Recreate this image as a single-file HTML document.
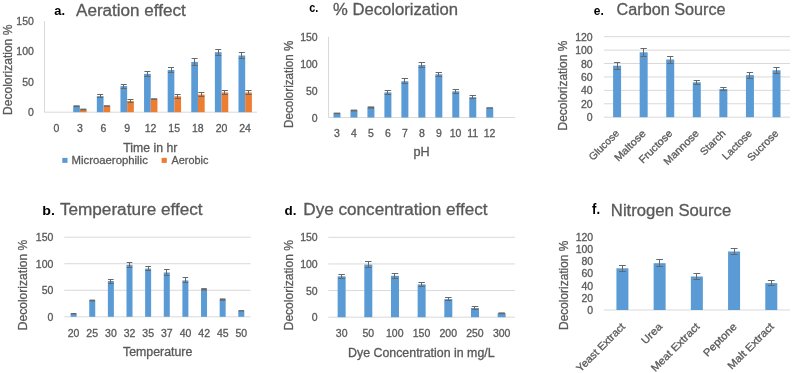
<!DOCTYPE html>
<html><head><meta charset="utf-8"><style>
html,body{margin:0;padding:0;background:#fff;}
svg{display:block;filter:blur(0.35px);}
text{font-family:"Liberation Sans",sans-serif;}
text.g{stroke:#595959;stroke-width:0.3px;}
</style></head><body>
<svg width="793" height="373" viewBox="0 0 793 373">
<rect width="793" height="373" fill="#fff"/>
<line x1="44.50" y1="21.00" x2="44.50" y2="112.20" stroke="#D9D9D9" stroke-width="1"/>
<line x1="44.50" y1="112.20" x2="257.00" y2="112.20" stroke="#D9D9D9" stroke-width="1"/>
<rect x="73.22" y="106.20" width="6.70" height="6.00" fill="#5B9BD5"/>
<rect x="73.57" y="105.30" width="6.00" height="1.80" fill="#686868"/>
<rect x="79.92" y="109.50" width="6.70" height="2.70" fill="#ED7D31"/>
<rect x="80.27" y="108.60" width="6.00" height="1.80" fill="#686868"/>
<rect x="96.83" y="96.10" width="6.70" height="16.10" fill="#5B9BD5"/>
<line x1="100.50" y1="94.50" x2="100.50" y2="97.50" stroke="#686868" stroke-width="1"/>
<line x1="97.18" y1="94.50" x2="103.18" y2="94.50" stroke="#686868" stroke-width="1"/>
<line x1="97.18" y1="97.50" x2="103.18" y2="97.50" stroke="#686868" stroke-width="1"/>
<rect x="103.53" y="106.00" width="6.70" height="6.20" fill="#ED7D31"/>
<rect x="103.88" y="105.20" width="6.00" height="1.60" fill="#686868"/>
<rect x="120.44" y="86.10" width="6.70" height="26.10" fill="#5B9BD5"/>
<line x1="123.50" y1="84.50" x2="123.50" y2="88.50" stroke="#686868" stroke-width="1"/>
<line x1="120.79" y1="84.50" x2="126.79" y2="84.50" stroke="#686868" stroke-width="1"/>
<line x1="120.79" y1="88.50" x2="126.79" y2="88.50" stroke="#686868" stroke-width="1"/>
<rect x="127.14" y="101.10" width="6.70" height="11.10" fill="#ED7D31"/>
<line x1="130.50" y1="99.50" x2="130.50" y2="102.50" stroke="#686868" stroke-width="1"/>
<line x1="127.49" y1="99.50" x2="133.49" y2="99.50" stroke="#686868" stroke-width="1"/>
<line x1="127.49" y1="102.50" x2="133.49" y2="102.50" stroke="#686868" stroke-width="1"/>
<rect x="144.05" y="73.90" width="6.70" height="38.30" fill="#5B9BD5"/>
<line x1="147.50" y1="71.50" x2="147.50" y2="76.50" stroke="#686868" stroke-width="1"/>
<line x1="144.40" y1="71.50" x2="150.40" y2="71.50" stroke="#686868" stroke-width="1"/>
<line x1="144.40" y1="76.50" x2="150.40" y2="76.50" stroke="#686868" stroke-width="1"/>
<rect x="150.75" y="99.00" width="6.70" height="13.20" fill="#ED7D31"/>
<rect x="151.10" y="98.20" width="6.00" height="1.60" fill="#686868"/>
<rect x="167.66" y="70.00" width="6.70" height="42.20" fill="#5B9BD5"/>
<line x1="171.50" y1="67.50" x2="171.50" y2="72.50" stroke="#686868" stroke-width="1"/>
<line x1="168.01" y1="67.50" x2="174.01" y2="67.50" stroke="#686868" stroke-width="1"/>
<line x1="168.01" y1="72.50" x2="174.01" y2="72.50" stroke="#686868" stroke-width="1"/>
<rect x="174.36" y="96.30" width="6.70" height="15.90" fill="#ED7D31"/>
<line x1="177.50" y1="94.50" x2="177.50" y2="98.50" stroke="#686868" stroke-width="1"/>
<line x1="174.71" y1="94.50" x2="180.71" y2="94.50" stroke="#686868" stroke-width="1"/>
<line x1="174.71" y1="98.50" x2="180.71" y2="98.50" stroke="#686868" stroke-width="1"/>
<rect x="191.27" y="61.90" width="6.70" height="50.30" fill="#5B9BD5"/>
<line x1="194.50" y1="58.50" x2="194.50" y2="65.50" stroke="#686868" stroke-width="1"/>
<line x1="191.62" y1="58.50" x2="197.62" y2="58.50" stroke="#686868" stroke-width="1"/>
<line x1="191.62" y1="65.50" x2="197.62" y2="65.50" stroke="#686868" stroke-width="1"/>
<rect x="197.97" y="94.60" width="6.70" height="17.60" fill="#ED7D31"/>
<line x1="201.50" y1="92.50" x2="201.50" y2="96.50" stroke="#686868" stroke-width="1"/>
<line x1="198.32" y1="92.50" x2="204.32" y2="92.50" stroke="#686868" stroke-width="1"/>
<line x1="198.32" y1="96.50" x2="204.32" y2="96.50" stroke="#686868" stroke-width="1"/>
<rect x="214.88" y="52.20" width="6.70" height="60.00" fill="#5B9BD5"/>
<line x1="218.50" y1="49.50" x2="218.50" y2="55.50" stroke="#686868" stroke-width="1"/>
<line x1="215.23" y1="49.50" x2="221.23" y2="49.50" stroke="#686868" stroke-width="1"/>
<line x1="215.23" y1="55.50" x2="221.23" y2="55.50" stroke="#686868" stroke-width="1"/>
<rect x="221.58" y="92.50" width="6.70" height="19.70" fill="#ED7D31"/>
<line x1="224.50" y1="90.50" x2="224.50" y2="94.50" stroke="#686868" stroke-width="1"/>
<line x1="221.93" y1="90.50" x2="227.93" y2="90.50" stroke="#686868" stroke-width="1"/>
<line x1="221.93" y1="94.50" x2="227.93" y2="94.50" stroke="#686868" stroke-width="1"/>
<rect x="238.49" y="55.50" width="6.70" height="56.70" fill="#5B9BD5"/>
<line x1="241.50" y1="52.50" x2="241.50" y2="58.50" stroke="#686868" stroke-width="1"/>
<line x1="238.84" y1="52.50" x2="244.84" y2="52.50" stroke="#686868" stroke-width="1"/>
<line x1="238.84" y1="58.50" x2="244.84" y2="58.50" stroke="#686868" stroke-width="1"/>
<rect x="245.19" y="92.50" width="6.70" height="19.70" fill="#ED7D31"/>
<line x1="248.50" y1="90.50" x2="248.50" y2="94.50" stroke="#686868" stroke-width="1"/>
<line x1="245.54" y1="90.50" x2="251.54" y2="90.50" stroke="#686868" stroke-width="1"/>
<line x1="245.54" y1="94.50" x2="251.54" y2="94.50" stroke="#686868" stroke-width="1"/>
<rect x="62.30" y="157.90" width="5.20" height="5.00" fill="#5B9BD5"/>
<rect x="161.60" y="157.90" width="5.20" height="5.00" fill="#ED7D31"/>
<line x1="328.50" y1="36.90" x2="328.50" y2="117.50" stroke="#D9D9D9" stroke-width="1"/>
<line x1="328.50" y1="117.50" x2="515.20" y2="117.50" stroke="#D9D9D9" stroke-width="1"/>
<rect x="333.49" y="113.40" width="7.00" height="4.10" fill="#5B9BD5"/>
<rect x="333.79" y="112.60" width="6.40" height="1.60" fill="#686868"/>
<rect x="350.46" y="110.50" width="7.00" height="7.00" fill="#5B9BD5"/>
<rect x="350.76" y="109.60" width="6.40" height="1.80" fill="#686868"/>
<rect x="367.43" y="107.50" width="7.00" height="10.00" fill="#5B9BD5"/>
<rect x="367.73" y="106.40" width="6.40" height="2.20" fill="#686868"/>
<rect x="384.40" y="92.40" width="7.00" height="25.10" fill="#5B9BD5"/>
<line x1="387.50" y1="90.50" x2="387.50" y2="94.50" stroke="#686868" stroke-width="1"/>
<line x1="384.70" y1="90.50" x2="391.10" y2="90.50" stroke="#686868" stroke-width="1"/>
<line x1="384.70" y1="94.50" x2="391.10" y2="94.50" stroke="#686868" stroke-width="1"/>
<rect x="401.38" y="81.20" width="7.00" height="36.30" fill="#5B9BD5"/>
<line x1="404.50" y1="78.50" x2="404.50" y2="83.50" stroke="#686868" stroke-width="1"/>
<line x1="401.68" y1="78.50" x2="408.08" y2="78.50" stroke="#686868" stroke-width="1"/>
<line x1="401.68" y1="83.50" x2="408.08" y2="83.50" stroke="#686868" stroke-width="1"/>
<rect x="418.35" y="65.00" width="7.00" height="52.50" fill="#5B9BD5"/>
<line x1="421.50" y1="62.50" x2="421.50" y2="67.50" stroke="#686868" stroke-width="1"/>
<line x1="418.65" y1="62.50" x2="425.05" y2="62.50" stroke="#686868" stroke-width="1"/>
<line x1="418.65" y1="67.50" x2="425.05" y2="67.50" stroke="#686868" stroke-width="1"/>
<rect x="435.32" y="74.30" width="7.00" height="43.20" fill="#5B9BD5"/>
<line x1="438.50" y1="72.50" x2="438.50" y2="76.50" stroke="#686868" stroke-width="1"/>
<line x1="435.62" y1="72.50" x2="442.02" y2="72.50" stroke="#686868" stroke-width="1"/>
<line x1="435.62" y1="76.50" x2="442.02" y2="76.50" stroke="#686868" stroke-width="1"/>
<rect x="452.30" y="91.30" width="7.00" height="26.20" fill="#5B9BD5"/>
<line x1="455.50" y1="89.50" x2="455.50" y2="93.50" stroke="#686868" stroke-width="1"/>
<line x1="452.60" y1="89.50" x2="459.00" y2="89.50" stroke="#686868" stroke-width="1"/>
<line x1="452.60" y1="93.50" x2="459.00" y2="93.50" stroke="#686868" stroke-width="1"/>
<rect x="469.27" y="97.20" width="7.00" height="20.30" fill="#5B9BD5"/>
<line x1="472.50" y1="95.50" x2="472.50" y2="98.50" stroke="#686868" stroke-width="1"/>
<line x1="469.57" y1="95.50" x2="475.97" y2="95.50" stroke="#686868" stroke-width="1"/>
<line x1="469.57" y1="98.50" x2="475.97" y2="98.50" stroke="#686868" stroke-width="1"/>
<rect x="486.24" y="107.90" width="7.00" height="9.60" fill="#5B9BD5"/>
<rect x="486.54" y="107.20" width="6.40" height="1.40" fill="#686868"/>
<line x1="604.00" y1="36.70" x2="790.00" y2="36.70" stroke="#D9D9D9" stroke-width="1"/>
<line x1="604.00" y1="50.12" x2="790.00" y2="50.12" stroke="#D9D9D9" stroke-width="1"/>
<line x1="604.00" y1="63.53" x2="790.00" y2="63.53" stroke="#D9D9D9" stroke-width="1"/>
<line x1="604.00" y1="76.95" x2="790.00" y2="76.95" stroke="#D9D9D9" stroke-width="1"/>
<line x1="604.00" y1="90.37" x2="790.00" y2="90.37" stroke="#D9D9D9" stroke-width="1"/>
<line x1="604.00" y1="103.78" x2="790.00" y2="103.78" stroke="#D9D9D9" stroke-width="1"/>
<line x1="604.00" y1="117.20" x2="790.00" y2="117.20" stroke="#D9D9D9" stroke-width="1"/>
<rect x="613.09" y="65.70" width="8.00" height="51.50" fill="#5B9BD5"/>
<line x1="617.50" y1="62.50" x2="617.50" y2="69.50" stroke="#686868" stroke-width="1"/>
<line x1="613.94" y1="62.50" x2="620.24" y2="62.50" stroke="#686868" stroke-width="1"/>
<line x1="613.94" y1="69.50" x2="620.24" y2="69.50" stroke="#686868" stroke-width="1"/>
<rect x="639.66" y="52.30" width="8.00" height="64.90" fill="#5B9BD5"/>
<line x1="643.50" y1="48.50" x2="643.50" y2="56.50" stroke="#686868" stroke-width="1"/>
<line x1="640.51" y1="48.50" x2="646.81" y2="48.50" stroke="#686868" stroke-width="1"/>
<line x1="640.51" y1="56.50" x2="646.81" y2="56.50" stroke="#686868" stroke-width="1"/>
<rect x="666.23" y="59.50" width="8.00" height="57.70" fill="#5B9BD5"/>
<line x1="670.50" y1="56.50" x2="670.50" y2="63.50" stroke="#686868" stroke-width="1"/>
<line x1="667.08" y1="56.50" x2="673.38" y2="56.50" stroke="#686868" stroke-width="1"/>
<line x1="667.08" y1="63.50" x2="673.38" y2="63.50" stroke="#686868" stroke-width="1"/>
<rect x="692.80" y="82.30" width="8.00" height="34.90" fill="#5B9BD5"/>
<line x1="696.50" y1="80.50" x2="696.50" y2="84.50" stroke="#686868" stroke-width="1"/>
<line x1="693.65" y1="80.50" x2="699.95" y2="80.50" stroke="#686868" stroke-width="1"/>
<line x1="693.65" y1="84.50" x2="699.95" y2="84.50" stroke="#686868" stroke-width="1"/>
<rect x="719.37" y="89.00" width="8.00" height="28.20" fill="#5B9BD5"/>
<line x1="723.50" y1="87.50" x2="723.50" y2="90.50" stroke="#686868" stroke-width="1"/>
<line x1="720.22" y1="87.50" x2="726.52" y2="87.50" stroke="#686868" stroke-width="1"/>
<line x1="720.22" y1="90.50" x2="726.52" y2="90.50" stroke="#686868" stroke-width="1"/>
<rect x="745.94" y="75.10" width="8.00" height="42.10" fill="#5B9BD5"/>
<line x1="749.50" y1="72.50" x2="749.50" y2="78.50" stroke="#686868" stroke-width="1"/>
<line x1="746.79" y1="72.50" x2="753.09" y2="72.50" stroke="#686868" stroke-width="1"/>
<line x1="746.79" y1="78.50" x2="753.09" y2="78.50" stroke="#686868" stroke-width="1"/>
<rect x="772.51" y="70.30" width="8.00" height="46.90" fill="#5B9BD5"/>
<line x1="776.50" y1="67.50" x2="776.50" y2="73.50" stroke="#686868" stroke-width="1"/>
<line x1="773.36" y1="67.50" x2="779.66" y2="67.50" stroke="#686868" stroke-width="1"/>
<line x1="773.36" y1="73.50" x2="779.66" y2="73.50" stroke="#686868" stroke-width="1"/>
<line x1="64.30" y1="237.20" x2="250.60" y2="237.20" stroke="#D9D9D9" stroke-width="1"/>
<line x1="64.30" y1="263.73" x2="250.60" y2="263.73" stroke="#D9D9D9" stroke-width="1"/>
<line x1="64.30" y1="290.27" x2="250.60" y2="290.27" stroke="#D9D9D9" stroke-width="1"/>
<line x1="64.30" y1="316.80" x2="250.60" y2="316.80" stroke="#D9D9D9" stroke-width="1"/>
<rect x="70.61" y="313.70" width="6.00" height="3.10" fill="#5B9BD5"/>
<rect x="70.81" y="313.00" width="5.60" height="1.40" fill="#686868"/>
<rect x="89.25" y="300.50" width="6.00" height="16.30" fill="#5B9BD5"/>
<rect x="89.45" y="299.60" width="5.60" height="1.80" fill="#686868"/>
<rect x="107.88" y="281.00" width="6.00" height="35.80" fill="#5B9BD5"/>
<line x1="110.50" y1="279.50" x2="110.50" y2="283.50" stroke="#686868" stroke-width="1"/>
<line x1="108.08" y1="279.50" x2="113.67" y2="279.50" stroke="#686868" stroke-width="1"/>
<line x1="108.08" y1="283.50" x2="113.67" y2="283.50" stroke="#686868" stroke-width="1"/>
<rect x="126.50" y="264.80" width="6.00" height="52.00" fill="#5B9BD5"/>
<line x1="129.50" y1="262.50" x2="129.50" y2="267.50" stroke="#686868" stroke-width="1"/>
<line x1="126.70" y1="262.50" x2="132.31" y2="262.50" stroke="#686868" stroke-width="1"/>
<line x1="126.70" y1="267.50" x2="132.31" y2="267.50" stroke="#686868" stroke-width="1"/>
<rect x="145.13" y="268.60" width="6.00" height="48.20" fill="#5B9BD5"/>
<line x1="148.50" y1="266.50" x2="148.50" y2="270.50" stroke="#686868" stroke-width="1"/>
<line x1="145.33" y1="266.50" x2="150.94" y2="266.50" stroke="#686868" stroke-width="1"/>
<line x1="145.33" y1="270.50" x2="150.94" y2="270.50" stroke="#686868" stroke-width="1"/>
<rect x="163.77" y="272.50" width="6.00" height="44.30" fill="#5B9BD5"/>
<line x1="166.50" y1="269.50" x2="166.50" y2="275.50" stroke="#686868" stroke-width="1"/>
<line x1="163.97" y1="269.50" x2="169.57" y2="269.50" stroke="#686868" stroke-width="1"/>
<line x1="163.97" y1="275.50" x2="169.57" y2="275.50" stroke="#686868" stroke-width="1"/>
<rect x="182.40" y="280.40" width="6.00" height="36.40" fill="#5B9BD5"/>
<line x1="185.50" y1="277.50" x2="185.50" y2="282.50" stroke="#686868" stroke-width="1"/>
<line x1="182.59" y1="277.50" x2="188.20" y2="277.50" stroke="#686868" stroke-width="1"/>
<line x1="182.59" y1="282.50" x2="188.20" y2="282.50" stroke="#686868" stroke-width="1"/>
<rect x="201.03" y="289.30" width="6.00" height="27.50" fill="#5B9BD5"/>
<rect x="201.23" y="288.10" width="5.60" height="2.40" fill="#686868"/>
<rect x="219.66" y="299.60" width="6.00" height="17.20" fill="#5B9BD5"/>
<rect x="219.86" y="298.40" width="5.60" height="2.40" fill="#686868"/>
<rect x="238.29" y="310.80" width="6.00" height="6.00" fill="#5B9BD5"/>
<rect x="238.49" y="310.10" width="5.60" height="1.40" fill="#686868"/>
<line x1="328.30" y1="237.30" x2="515.00" y2="237.30" stroke="#D9D9D9" stroke-width="1"/>
<line x1="328.30" y1="263.93" x2="515.00" y2="263.93" stroke="#D9D9D9" stroke-width="1"/>
<line x1="328.30" y1="290.57" x2="515.00" y2="290.57" stroke="#D9D9D9" stroke-width="1"/>
<line x1="328.30" y1="317.20" x2="515.00" y2="317.20" stroke="#D9D9D9" stroke-width="1"/>
<rect x="337.64" y="276.30" width="8.00" height="40.90" fill="#5B9BD5"/>
<line x1="341.50" y1="274.50" x2="341.50" y2="278.50" stroke="#686868" stroke-width="1"/>
<line x1="338.39" y1="274.50" x2="344.89" y2="274.50" stroke="#686868" stroke-width="1"/>
<line x1="338.39" y1="278.50" x2="344.89" y2="278.50" stroke="#686868" stroke-width="1"/>
<rect x="364.31" y="264.60" width="8.00" height="52.60" fill="#5B9BD5"/>
<line x1="368.50" y1="261.50" x2="368.50" y2="267.50" stroke="#686868" stroke-width="1"/>
<line x1="365.06" y1="261.50" x2="371.56" y2="261.50" stroke="#686868" stroke-width="1"/>
<line x1="365.06" y1="267.50" x2="371.56" y2="267.50" stroke="#686868" stroke-width="1"/>
<rect x="390.98" y="275.80" width="8.00" height="41.40" fill="#5B9BD5"/>
<line x1="394.50" y1="273.50" x2="394.50" y2="278.50" stroke="#686868" stroke-width="1"/>
<line x1="391.73" y1="273.50" x2="398.23" y2="273.50" stroke="#686868" stroke-width="1"/>
<line x1="391.73" y1="278.50" x2="398.23" y2="278.50" stroke="#686868" stroke-width="1"/>
<rect x="417.65" y="284.40" width="8.00" height="32.80" fill="#5B9BD5"/>
<line x1="421.50" y1="282.50" x2="421.50" y2="286.50" stroke="#686868" stroke-width="1"/>
<line x1="418.40" y1="282.50" x2="424.90" y2="282.50" stroke="#686868" stroke-width="1"/>
<line x1="418.40" y1="286.50" x2="424.90" y2="286.50" stroke="#686868" stroke-width="1"/>
<rect x="444.32" y="299.10" width="8.00" height="18.10" fill="#5B9BD5"/>
<line x1="448.50" y1="297.50" x2="448.50" y2="300.50" stroke="#686868" stroke-width="1"/>
<line x1="445.07" y1="297.50" x2="451.57" y2="297.50" stroke="#686868" stroke-width="1"/>
<line x1="445.07" y1="300.50" x2="451.57" y2="300.50" stroke="#686868" stroke-width="1"/>
<rect x="470.99" y="308.00" width="8.00" height="9.20" fill="#5B9BD5"/>
<line x1="474.50" y1="306.50" x2="474.50" y2="309.50" stroke="#686868" stroke-width="1"/>
<line x1="471.74" y1="306.50" x2="478.24" y2="306.50" stroke="#686868" stroke-width="1"/>
<line x1="471.74" y1="309.50" x2="478.24" y2="309.50" stroke="#686868" stroke-width="1"/>
<rect x="497.66" y="313.30" width="8.00" height="3.90" fill="#5B9BD5"/>
<rect x="498.41" y="312.40" width="6.50" height="1.80" fill="#686868"/>
<line x1="603.80" y1="310.00" x2="789.90" y2="310.00" stroke="#D9D9D9" stroke-width="1"/>
<rect x="616.41" y="268.30" width="12.00" height="41.70" fill="#5B9BD5"/>
<line x1="622.50" y1="265.50" x2="622.50" y2="271.50" stroke="#686868" stroke-width="1"/>
<line x1="619.01" y1="265.50" x2="625.81" y2="265.50" stroke="#686868" stroke-width="1"/>
<line x1="619.01" y1="271.50" x2="625.81" y2="271.50" stroke="#686868" stroke-width="1"/>
<rect x="653.63" y="263.20" width="12.00" height="46.80" fill="#5B9BD5"/>
<line x1="659.50" y1="259.50" x2="659.50" y2="266.50" stroke="#686868" stroke-width="1"/>
<line x1="656.23" y1="259.50" x2="663.03" y2="259.50" stroke="#686868" stroke-width="1"/>
<line x1="656.23" y1="266.50" x2="663.03" y2="266.50" stroke="#686868" stroke-width="1"/>
<rect x="690.85" y="276.50" width="12.00" height="33.50" fill="#5B9BD5"/>
<line x1="696.50" y1="273.50" x2="696.50" y2="279.50" stroke="#686868" stroke-width="1"/>
<line x1="693.45" y1="273.50" x2="700.25" y2="273.50" stroke="#686868" stroke-width="1"/>
<line x1="693.45" y1="279.50" x2="700.25" y2="279.50" stroke="#686868" stroke-width="1"/>
<rect x="728.07" y="251.50" width="12.00" height="58.50" fill="#5B9BD5"/>
<line x1="734.50" y1="248.50" x2="734.50" y2="254.50" stroke="#686868" stroke-width="1"/>
<line x1="730.67" y1="248.50" x2="737.47" y2="248.50" stroke="#686868" stroke-width="1"/>
<line x1="730.67" y1="254.50" x2="737.47" y2="254.50" stroke="#686868" stroke-width="1"/>
<rect x="765.29" y="283.10" width="12.00" height="26.90" fill="#5B9BD5"/>
<line x1="771.50" y1="280.50" x2="771.50" y2="285.50" stroke="#686868" stroke-width="1"/>
<line x1="767.89" y1="280.50" x2="774.69" y2="280.50" stroke="#686868" stroke-width="1"/>
<line x1="767.89" y1="285.50" x2="774.69" y2="285.50" stroke="#686868" stroke-width="1"/>
<text x="16.36" y="25.07" font-size="10.5" fill="#595959" class="g">150</text>
<text x="16.36" y="55.37" font-size="10.5" fill="#595959" class="g">100</text>
<text x="22.20" y="85.67" font-size="10.5" fill="#595959" class="g">50</text>
<text x="28.04" y="116.08" font-size="10.5" fill="#595959" class="g">0</text>
<text x="53.42" y="131.88" font-size="10.5" fill="#595959" class="g">0</text>
<text x="77.03" y="131.88" font-size="10.5" fill="#595959" class="g">3</text>
<text x="100.54" y="131.88" font-size="10.5" fill="#595959" class="g">6</text>
<text x="124.25" y="131.88" font-size="10.5" fill="#595959" class="g">9</text>
<text x="144.79" y="131.88" font-size="10.5" fill="#595959" class="g">12</text>
<text x="168.34" y="131.82" font-size="10.5" fill="#595959" class="g">15</text>
<text x="191.95" y="131.88" font-size="10.5" fill="#595959" class="g">18</text>
<text x="215.67" y="131.88" font-size="10.5" fill="#595959" class="g">20</text>
<text x="239.23" y="131.88" font-size="10.5" fill="#595959" class="g">24</text>
<text x="54.34" y="14.70" font-size="13.5" font-weight="bold" fill="#000" textLength="10.73" lengthAdjust="spacingAndGlyphs">a.</text>
<text x="76.00" y="15.50" font-size="16" fill="#595959" class="g" textLength="109.76" lengthAdjust="spacingAndGlyphs">Aeration effect</text>
<text x="123.35" y="152.00" font-size="12" fill="#595959" class="g" textLength="54.00" lengthAdjust="spacingAndGlyphs">Time in hr</text>
<text transform="translate(12.40,114.00) rotate(-90)" x="-0.96" y="0" font-size="12.2" fill="#595959" class="g" textLength="90.31" lengthAdjust="spacingAndGlyphs">Decolorization %</text>
<text x="71.49" y="163.60" font-size="11.2" fill="#595959" class="g" textLength="76.34" lengthAdjust="spacingAndGlyphs">Microaerophilic</text>
<text x="171.60" y="163.60" font-size="11.2" fill="#595959" class="g" textLength="36.82" lengthAdjust="spacingAndGlyphs">Aerobic</text>
<text x="300.16" y="40.97" font-size="10.5" fill="#595959" class="g">150</text>
<text x="300.16" y="67.84" font-size="10.5" fill="#595959" class="g">100</text>
<text x="306.00" y="94.71" font-size="10.5" fill="#595959" class="g">50</text>
<text x="311.84" y="121.58" font-size="10.5" fill="#595959" class="g">0</text>
<text x="334.10" y="136.88" font-size="10.5" fill="#595959" class="g">3</text>
<text x="351.07" y="136.88" font-size="10.5" fill="#595959" class="g">4</text>
<text x="367.99" y="136.82" font-size="10.5" fill="#595959" class="g">5</text>
<text x="384.91" y="136.88" font-size="10.5" fill="#595959" class="g">6</text>
<text x="401.94" y="136.88" font-size="10.5" fill="#595959" class="g">7</text>
<text x="418.91" y="136.88" font-size="10.5" fill="#595959" class="g">8</text>
<text x="435.94" y="136.88" font-size="10.5" fill="#595959" class="g">9</text>
<text x="449.78" y="136.88" font-size="10.5" fill="#595959" class="g">10</text>
<text x="467.19" y="136.82" font-size="10.5" fill="#595959" class="g">11</text>
<text x="483.78" y="136.88" font-size="10.5" fill="#595959" class="g">12</text>
<text x="309.27" y="12.10" font-size="12" font-weight="bold" fill="#000" textLength="9.06" lengthAdjust="spacingAndGlyphs">c.</text>
<text x="333.10" y="15.40" font-size="16" fill="#595959" class="g" textLength="124.83" lengthAdjust="spacingAndGlyphs">% Decolorization</text>
<text x="413.54" y="156.00" font-size="12" fill="#595959" class="g" textLength="16.17" lengthAdjust="spacingAndGlyphs">pH</text>
<text transform="translate(293.00,127.00) rotate(-90)" x="-0.93" y="0" font-size="12.2" fill="#595959" class="g" textLength="87.27" lengthAdjust="spacingAndGlyphs">Decolorization %</text>
<text x="575.16" y="40.77" font-size="10.5" fill="#595959" class="g">120</text>
<text x="575.16" y="54.19" font-size="10.5" fill="#595959" class="g">100</text>
<text x="581.00" y="67.61" font-size="10.5" fill="#595959" class="g">80</text>
<text x="581.00" y="81.03" font-size="10.5" fill="#595959" class="g">60</text>
<text x="581.00" y="94.44" font-size="10.5" fill="#595959" class="g">40</text>
<text x="581.00" y="107.86" font-size="10.5" fill="#595959" class="g">20</text>
<text x="586.84" y="121.28" font-size="10.5" fill="#595959" class="g">0</text>
<text x="593.84" y="14.50" font-size="12.2" font-weight="bold" fill="#000" textLength="9.97" lengthAdjust="spacingAndGlyphs">e.</text>
<text x="616.59" y="15.40" font-size="16" fill="#595959" class="g" textLength="109.00" lengthAdjust="spacingAndGlyphs">Carbon Source</text>
<text transform="translate(566.60,129.50) rotate(-90)" x="-0.96" y="0" font-size="12.2" fill="#595959" class="g" textLength="89.81" lengthAdjust="spacingAndGlyphs">Decolorization %</text>
<text transform="translate(619.89,134.00) rotate(-45)" x="-38.15" y="0" font-size="10.4" fill="#595959" class="g" textLength="38.15" lengthAdjust="spacingAndGlyphs">Glucose</text>
<text transform="translate(646.46,134.00) rotate(-45)" x="-39.69" y="0" font-size="10.4" fill="#595959" class="g" textLength="39.69" lengthAdjust="spacingAndGlyphs">Maltose</text>
<text transform="translate(673.03,134.00) rotate(-45)" x="-42.48" y="0" font-size="10.4" fill="#595959" class="g" textLength="42.48" lengthAdjust="spacingAndGlyphs">Fructose</text>
<text transform="translate(699.60,134.00) rotate(-45)" x="-44.92" y="0" font-size="10.4" fill="#595959" class="g" textLength="44.92" lengthAdjust="spacingAndGlyphs">Mannose</text>
<text transform="translate(726.17,134.00) rotate(-45)" x="-30.96" y="0" font-size="10.4" fill="#595959" class="g" textLength="30.96" lengthAdjust="spacingAndGlyphs">Starch</text>
<text transform="translate(752.74,134.00) rotate(-45)" x="-37.52" y="0" font-size="10.4" fill="#595959" class="g" textLength="37.52" lengthAdjust="spacingAndGlyphs">Lactose</text>
<text transform="translate(779.31,134.00) rotate(-45)" x="-39.30" y="0" font-size="10.4" fill="#595959" class="g" textLength="39.30" lengthAdjust="spacingAndGlyphs">Sucrose</text>
<text x="35.86" y="241.28" font-size="10.5" fill="#595959" class="g">150</text>
<text x="35.86" y="267.81" font-size="10.5" fill="#595959" class="g">100</text>
<text x="41.70" y="294.34" font-size="10.5" fill="#595959" class="g">50</text>
<text x="47.54" y="320.88" font-size="10.5" fill="#595959" class="g">0</text>
<text x="67.70" y="337.48" font-size="10.5" fill="#595959" class="g">20</text>
<text x="86.33" y="337.48" font-size="10.5" fill="#595959" class="g">25</text>
<text x="105.07" y="337.48" font-size="10.5" fill="#595959" class="g">30</text>
<text x="123.75" y="337.48" font-size="10.5" fill="#595959" class="g">32</text>
<text x="142.33" y="337.48" font-size="10.5" fill="#595959" class="g">35</text>
<text x="161.01" y="337.48" font-size="10.5" fill="#595959" class="g">37</text>
<text x="179.64" y="337.48" font-size="10.5" fill="#595959" class="g">40</text>
<text x="198.32" y="337.48" font-size="10.5" fill="#595959" class="g">42</text>
<text x="216.90" y="337.48" font-size="10.5" fill="#595959" class="g">45</text>
<text x="235.43" y="337.48" font-size="10.5" fill="#595959" class="g">50</text>
<text x="42.35" y="215.30" font-size="13.4" font-weight="bold" fill="#000" textLength="12.61" lengthAdjust="spacingAndGlyphs">b.</text>
<text x="59.96" y="215.30" font-size="16" fill="#595959" class="g" textLength="142.61" lengthAdjust="spacingAndGlyphs">Temperature effect</text>
<text x="123.05" y="356.40" font-size="12" fill="#595959" class="g" textLength="69.29" lengthAdjust="spacingAndGlyphs">Temperature</text>
<text transform="translate(27.00,329.30) rotate(-90)" x="-0.97" y="0" font-size="12.2" fill="#595959" class="g" textLength="90.62" lengthAdjust="spacingAndGlyphs">Decolorization %</text>
<text x="300.16" y="241.38" font-size="10.5" fill="#595959" class="g">150</text>
<text x="300.16" y="268.01" font-size="10.5" fill="#595959" class="g">100</text>
<text x="306.00" y="294.64" font-size="10.5" fill="#595959" class="g">50</text>
<text x="311.84" y="321.27" font-size="10.5" fill="#595959" class="g">0</text>
<text x="335.83" y="336.68" font-size="10.5" fill="#595959" class="g">30</text>
<text x="362.45" y="336.68" font-size="10.5" fill="#595959" class="g">50</text>
<text x="386.04" y="336.68" font-size="10.5" fill="#595959" class="g">100</text>
<text x="412.71" y="336.68" font-size="10.5" fill="#595959" class="g">150</text>
<text x="439.49" y="336.68" font-size="10.5" fill="#595959" class="g">200</text>
<text x="466.16" y="336.68" font-size="10.5" fill="#595959" class="g">250</text>
<text x="492.94" y="336.68" font-size="10.5" fill="#595959" class="g">300</text>
<text x="284.56" y="215.30" font-size="12.8" font-weight="bold" fill="#000" textLength="11.95" lengthAdjust="spacingAndGlyphs">d.</text>
<text x="303.33" y="215.30" font-size="16" fill="#595959" class="g" textLength="184.23" lengthAdjust="spacingAndGlyphs">Dye concentration effect</text>
<text x="348.01" y="356.50" font-size="12" fill="#595959" class="g" textLength="146.61" lengthAdjust="spacingAndGlyphs">Dye Concentration in mg/L</text>
<text transform="translate(292.80,329.30) rotate(-90)" x="-0.96" y="0" font-size="12.2" fill="#595959" class="g" textLength="90.11" lengthAdjust="spacingAndGlyphs">Decolorization %</text>
<text x="575.66" y="240.58" font-size="10.5" fill="#595959" class="g">120</text>
<text x="575.66" y="252.83" font-size="10.5" fill="#595959" class="g">100</text>
<text x="581.50" y="265.07" font-size="10.5" fill="#595959" class="g">80</text>
<text x="581.50" y="277.32" font-size="10.5" fill="#595959" class="g">60</text>
<text x="581.50" y="289.57" font-size="10.5" fill="#595959" class="g">40</text>
<text x="581.50" y="301.82" font-size="10.5" fill="#595959" class="g">20</text>
<text x="587.34" y="314.07" font-size="10.5" fill="#595959" class="g">0</text>
<text x="592.07" y="213.80" font-size="14" font-weight="bold" fill="#000" textLength="8.02" lengthAdjust="spacingAndGlyphs">f.</text>
<text x="610.87" y="215.60" font-size="16" fill="#595959" class="g" textLength="120.33" lengthAdjust="spacingAndGlyphs">Nitrogen Source</text>
<text transform="translate(567.60,329.00) rotate(-90)" x="-0.95" y="0" font-size="12.2" fill="#595959" class="g" textLength="89.30" lengthAdjust="spacingAndGlyphs">Decolorization %</text>
<text transform="translate(625.71,327.30) rotate(-45)" x="-63.92" y="0" font-size="10.6" fill="#595959" class="g" textLength="63.92" lengthAdjust="spacingAndGlyphs">Yeast Extract</text>
<text transform="translate(662.93,327.30) rotate(-45)" x="-24.58" y="0" font-size="10.6" fill="#595959" class="g" textLength="24.58" lengthAdjust="spacingAndGlyphs">Urea</text>
<text transform="translate(700.15,327.30) rotate(-45)" x="-63.66" y="0" font-size="10.6" fill="#595959" class="g" textLength="63.66" lengthAdjust="spacingAndGlyphs">Meat Extract</text>
<text transform="translate(737.37,327.30) rotate(-45)" x="-42.26" y="0" font-size="10.6" fill="#595959" class="g" textLength="42.26" lengthAdjust="spacingAndGlyphs">Peptone</text>
<text transform="translate(774.59,327.30) rotate(-45)" x="-60.43" y="0" font-size="10.6" fill="#595959" class="g" textLength="60.43" lengthAdjust="spacingAndGlyphs">Malt Extract</text>
</svg>
</body></html>
